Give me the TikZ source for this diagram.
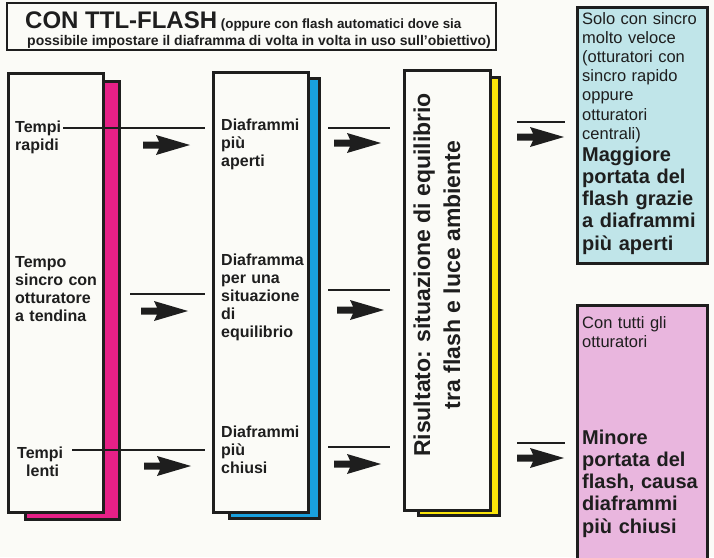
\documentclass[tikz,border=0pt]{standalone}
\usepackage{fontspec}
\setmainfont{Liberation Sans}
\definecolor{bg}{RGB}{251,251,247}
\definecolor{ink}{RGB}{30,30,30}
\definecolor{magshadow}{RGB}{230,32,135}
\definecolor{blueshadow}{RGB}{25,160,222}
\definecolor{yelshadow}{RGB}{250,228,10}
\definecolor{cyanbox}{RGB}{192,229,233}
\definecolor{pinkbox}{RGB}{233,182,222}
\tikzset{
  boxline/.style={draw=ink, line width=3pt},
  guide/.style={draw=ink, line width=2pt},
  boxtxt/.style={anchor=base west, inner sep=0pt, text width=95pt, align=left,
    font=\fontsize{16}{18}\selectfont\bfseries, text=ink},
  regtxt/.style={anchor=base west, inner sep=0pt, text width=125pt, align=left,
    font=\fontsize{16.5}{19.2}\selectfont, text=ink},
  boldtxt/.style={anchor=base west, inner sep=0pt, text width=125pt, align=left,
    font=\fontsize{20}{22.3}\selectfont\bfseries, text=ink},
  fatarrow/.pic={\fill[ink] (0,-3.5) -- (16,-3.5) -- (13,-10) -- (47,0) -- (13,10) -- (16,3.5) -- (0,3.5) -- cycle;}
}
\begin{document}
\begin{tikzpicture}[x=1pt,y=-1pt]
\clip (0,0) rectangle (714,557);
\fill[bg] (0,0) rectangle (714,557);

% title
\draw[draw=ink, line width=1.8pt, fill=bg] (7,3) rectangle (496,50);
\node[anchor=base west, inner sep=0pt, text=ink, font=\bfseries] (title) at (25,28)
  {\fontsize{24}{26}\selectfont CON TTL-FLASH\fontsize{13.4}{16}\selectfont\ (oppure con flash automatici dove sia};
\node[anchor=base west, inner sep=0pt, text=ink, font=\bfseries\fontsize{14}{16}\selectfont] (subtitle) at (27,45)
  {possibile impostare il diaframma di volta in volta in uso sull’obiettivo)};

% column boxes
\draw[boxline, fill=magshadow] (25,81) rectangle (119,519);
\draw[boxline, fill=bg] (8,73) rectangle (103,512);
\draw[boxline, fill=blueshadow] (229,78) rectangle (319,518);
\draw[boxline, fill=bg] (213,72) rectangle (308,512);
\draw[boxline, fill=yelshadow] (418,77) rectangle (499,515);
\draw[boxline, fill=bg] (404,70) rectangle (490,510);

% result boxes
\draw[boxline, fill=cyanbox] (577,7) rectangle (707,263);
\fill[pinkbox] (577,305) rectangle (707,562);
\draw[boxline] (577,562) -- (577,305) -- (707,305) -- (707,562);

% column 1 text
\node[boxtxt] (t1) at (15,132) {Tempi\\rapidi};
\node[boxtxt] (t2) at (15,267) {Tempo\\sincro con\\otturatore\\a tendina};
\node[boxtxt] (t3) at (17,458) {Tempi\\\hspace*{9pt}lenti};

% column 2 text
\node[boxtxt] (d1) at (221,130) {Diaframmi\\più\\aperti};
\node[boxtxt] (d2) at (221,265) {Diaframma\\per una\\situazione\\di\\equilibrio};
\node[boxtxt] (d3) at (221,437) {Diaframmi\\più\\chiusi};

% column 3 text
\node[rotate=90, align=center, inner sep=0pt, font=\fontsize{23}{30}\selectfont\bfseries, text=ink] (res) at (437,275)
  {Risultato: situazione di equilibrio\\tra flash e luce ambiente};

% result texts
\node[regtxt] (r1) at (582,24) {Solo con sincro\\molto veloce\\(otturatori con\\sincro rapido\\oppure\\otturatori\\centrali)};
\node[boldtxt] (r2) at (582,161) {Maggiore\\portata del\\flash grazie\\a diaframmi\\più aperti};
\node[regtxt] (p1) at (582,328) {Con tutti gli\\otturatori};
\node[boldtxt] (p2) at (582,444) {Minore\\portata del\\flash, causa\\diaframmi\\più chiusi};

% guide lines
\draw[guide] (63,128) -- (205,128);
\draw[guide] (130,294) -- (205,294);
\draw[guide] (72,450) -- (205,450);
\draw[guide] (328,128) -- (390,128);
\draw[guide] (328,290) -- (390,290);
\draw[guide] (328,447) -- (390,447);
\draw[guide] (517,122) -- (565,122);
\draw[guide] (517,443) -- (565,443);

% arrows
\pic at (143,145) {fatarrow};
\pic at (141,311) {fatarrow};
\pic at (144,466) {fatarrow};
\pic at (334,143) {fatarrow};
\pic at (337,310) {fatarrow};
\pic at (334,464) {fatarrow};
\pic at (517,137) {fatarrow};
\pic at (517,458) {fatarrow};
\end{tikzpicture}
\end{document}
